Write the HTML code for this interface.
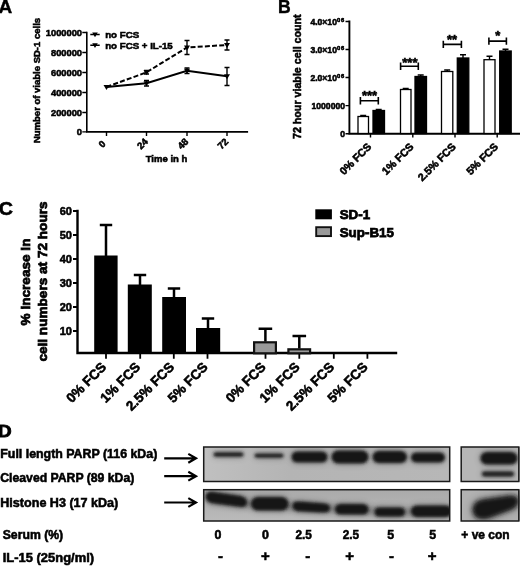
<!DOCTYPE html>
<html>
<head>
<meta charset="utf-8">
<title>Figure</title>
<style>
html,body{margin:0;padding:0;background:#fff;}
body{width:520px;height:566px;overflow:hidden;}
svg{display:block;}
text{font-family:"Liberation Sans",Arial,sans-serif;font-weight:bold;fill:#000;stroke:#000;stroke-width:0.55px;}
.ax{stroke:#000;stroke-width:2;fill:none;stroke-linecap:square;}
.tk{stroke:#000;stroke-width:1.4;fill:none;}
.ln{stroke:#000;stroke-width:2;fill:none;}
.eb{stroke:#000;stroke-width:1.4;fill:none;}
.t9{font-size:9.5px;}
.pl{font-size:17.6px;stroke-width:0.4px}
</style>
</head>
<body>
<svg width="520" height="566" viewBox="0 0 520 566">
<defs>
<filter id="b1" x="-20%" y="-50%" width="140%" height="200%"><feGaussianBlur stdDeviation="1.6"/></filter>
<linearGradient id="g2" x1="0" y1="0" x2="0" y2="1"><stop offset="0" stop-color="#aaaaaa"/><stop offset="1" stop-color="#bbbbbb"/></linearGradient>
<linearGradient id="g1" x1="0" y1="0" x2="1" y2="0"><stop offset="0" stop-color="#c0c0c0"/><stop offset="0.35" stop-color="#b4b4b4"/><stop offset="1" stop-color="#b7b7b7"/></linearGradient>
<filter id="b2" x="-20%" y="-50%" width="140%" height="200%"><feGaussianBlur stdDeviation="2"/></filter>
<filter id="b3" x="-20%" y="-100%" width="140%" height="300%"><feGaussianBlur stdDeviation="3"/></filter>
<filter id="b4" x="-30%" y="-100%" width="160%" height="300%"><feGaussianBlur stdDeviation="4.5"/></filter>
<path id="tri" d="M-3,-2 L3,-2 L0,3 Z"/>
</defs>
<rect x="0" y="0" width="520" height="566" fill="#fff"/>

<!-- ================= Panel A ================= -->
<g id="panelA">
<text class="pl" transform="translate(-1.4,12.6) scale(1.08,1)">A</text>
<path class="ax" style="stroke-width:1.6" d="M86.8,32.5 V131.900 H247.300"/>
<path class="tk" d="M82.300,32.5H86.8 M82.300,52.5H86.8 M82.300,72.5H86.8 M82.300,92.5H86.8 M82.300,112.5H86.8 M82.300,131.900H86.8"/>
<path class="tk" d="M106.5,132V136 M146.5,132V136 M187,132V136 M227,132V136"/>
<g style="font-size:9.3px" text-anchor="end">
<text x="82" y="35.7">1000000</text>
<text x="82" y="55.7">800000</text>
<text x="82" y="75.7">600000</text>
<text x="82" y="95.7">400000</text>
<text x="82" y="115.7">200000</text>
<text x="82" y="135">0</text>
</g>
<text class="t9" text-anchor="middle" transform="translate(40.3,80.5) rotate(-90)">Number of viable SD-1 cells</text>
<g class="t9" text-anchor="end">
<text transform="translate(106.2,144.5) rotate(-45)">0</text>
<text transform="translate(148.5,142.3) rotate(-45)">24</text>
<text transform="translate(189,142.3) rotate(-45)">48</text>
<text transform="translate(229,142.3) rotate(-45)">72</text>
</g>
<text class="t9" x="166.5" y="162" text-anchor="middle" style="font-size:9.5px">Time in h</text>
<!-- legend -->
<path class="eb" d="M90.300,34.5H99.700 M90.300,45.200H99.700"/>
<path d="M92.200,32.600H97.800L95,37.300Z M92.200,43.300H97.800L95,48Z"/>
<text x="105.2" y="38" style="font-size:9.7px">no FCS</text>
<text x="105.2" y="48.7" style="font-size:9.7px">no FCS + IL-15</text>
<!-- solid -->
<path class="ln" d="M106.5,87 L146.5,83.3 L187,70.8 L227,76.3"/>
<path class="ln" stroke-dasharray="5,2.2" d="M106.5,87 L146.5,72.3 L187,47.5 L227,45"/>
<path class="eb" d="M146.5,80.5V86 M144,80.5H149 M144,86H149 M187,68V73.5 M184.500,68H189.5 M184.500,73.5H189.5 M227,67.5V85.500 M224.500,67.5H229.5 M224.500,85.500H229.5"/>
<path class="eb" d="M146.5,70.5V74 M144,70.5H149 M144,74H149 M187,40.500V54.500 M184.500,40.500H189.5 M184.500,54.500H189.5 M227,40V50 M224.500,40H229.5 M224.500,50H229.5"/>
<use href="#tri" x="106.5" y="87"/><use href="#tri" x="146.5" y="83.3"/><use href="#tri" x="187" y="70.8"/><use href="#tri" x="227" y="76.3"/>
<use href="#tri" x="146.5" y="72.3"/><use href="#tri" x="187" y="47.5"/><use href="#tri" x="227" y="45"/>
</g>

<!-- ================= Panel B ================= -->
<g id="panelB">
<text class="pl" transform="translate(278.1,12.6) scale(1,1)">B</text>
<path class="ax" style="stroke-width:1.9" d="M349.4,21.5 V133.7 H520"/>
<path class="tk" d="M345.500,21.5H349.4 M345.500,49.5H349.4 M345.500,77.5H349.4 M345.500,105.6H349.4 M345.500,133.7H349.4"/>
<path class="tk" d="M370.500,133.7V137.500 M412.800,133.7V137.500 M455,133.7V137.500 M497.200,133.7V137.500"/>
<g style="font-size:8.6px" text-anchor="end">
<text x="345" y="24.8">4.0×10<tspan dy="-3" style="font-size:5.8px;letter-spacing:0.8px">06</tspan></text>
<text x="345" y="52.8">3.0×10<tspan dy="-3" style="font-size:5.8px;letter-spacing:0.8px">06</tspan></text>
<text x="345" y="80.8">2.0×10<tspan dy="-3" style="font-size:5.8px;letter-spacing:0.8px">06</tspan></text>
<text x="345" y="108.8">1000000</text>
<text x="345" y="136.8">0</text>
</g>
<text class="t9" text-anchor="middle" transform="translate(300.700,76.7) rotate(-90)" style="font-size:10.7px">72 hour viable cell count</text>
<!-- bars -->
<g stroke="#000" stroke-width="1.3">
<rect x="358" y="116.500" width="10.500" height="17" fill="#fff"/>
<rect x="373" y="110.5" width="11.500" height="23" fill="#000"/>
<rect x="400.500" y="89.500" width="10.500" height="44" fill="#fff"/>
<rect x="415" y="76.5" width="11.500" height="57" fill="#000"/>
<rect x="441.500" y="71.500" width="11.300" height="62" fill="#fff"/>
<rect x="457.300" y="58" width="11.500" height="75.500" fill="#000"/>
<rect x="484" y="59.700" width="11" height="73.800" fill="#fff"/>
<rect x="499.700" y="51" width="11.500" height="82.500" fill="#000"/>
</g>
<path class="eb" d="M363.200,116.500V115.500 M360.200,115.500H366.200 M378.700,110.500V109.500 M375.700,109.500H381.700 M405.700,89.500V88.500 M402.700,88.500H408.700 M420.700,76.500V75 M417.700,75H423.700 M447.200,71.500V70 M444.200,70H450.200 M463,58V54.700 M460,54.700H466 M489.500,60V56.200 M486.500,56.200H492.500 M505.500,52V49.300 M502.500,49.300H508.500"/>
<!-- sig brackets -->
<path class="eb" style="stroke-width:1.6" d="M360.400,100.7H378.300 M360.400,97V104.400 M378.300,97V104.400 M400.600,66.300H418.300 M400.600,62.600V70 M418.300,62.600V70 M443.300,44.400H461.400 M443.300,40.700V48.100 M461.400,40.700V48.100 M488.900,41.100H506.400 M488.900,37.400V44.800 M506.400,37.400V44.800"/>
<g style="font-size:13px;stroke-width:0.5px" text-anchor="middle">
<text x="369.500" y="100.400">***</text>
<text x="409.900" y="66.500">***</text>
<text x="452" y="44">**</text>
<text x="497.700" y="39.800">*</text>
</g>
<g style="font-size:10.7px" text-anchor="end">
<text transform="translate(372.100,147.4) rotate(-45)">0% FCS</text>
<text transform="translate(414.400,147.4) rotate(-45)">1% FCS</text>
<text transform="translate(456.600,147.4) rotate(-45)">2.5% FCS</text>
<text transform="translate(498.800,147.4) rotate(-45)">5% FCS</text>
</g>
</g>

<!-- ================= Panel C ================= -->
<g id="panelC">
<text class="pl" transform="translate(-1.3,214.8) scale(1.08,1)" style="font-size:18.2px;stroke-width:0.6px">C</text>
<path class="ax" style="stroke-width:2.4" d="M77.500,211 V353 H396"/>
<path class="tk" style="stroke-width:1.8" d="M73,211H77.500 M73,235H77.500 M73,259H77.500 M73,283H77.500 M73,307H77.500 M73,331H77.500"/>
<path class="tk" style="stroke-width:1.8" d="M106,353V358.700 M140.200,353V358.700 M173.800,353V358.700 M207.500,353V358.700 M265.500,353V358.700 M299.300,353V358.700 M333.800,353V358.700 M367.400,353V358.700"/>
<g style="font-size:11px" text-anchor="end">
<text x="72" y="214.800">60</text>
<text x="72" y="238.800">50</text>
<text x="72" y="262.800">40</text>
<text x="72" y="286.800">30</text>
<text x="72" y="310.800">20</text>
<text x="72" y="334.800">10</text>
</g>
<text text-anchor="middle" transform="translate(30,282) rotate(-90)" style="font-size:13.6px;stroke-width:0.75px">% increase in</text>
<text text-anchor="middle" transform="translate(47,281.500) rotate(-90)" style="font-size:13.6px;stroke-width:0.75px">cell numbers at 72 hours</text>
<g>
<rect x="94.200" y="255.500" width="23.400" height="98" fill="#000"/>
<rect x="127.800" y="284.500" width="24" height="69" fill="#000"/>
<rect x="162.200" y="297" width="23.800" height="56" fill="#000"/>
<rect x="196" y="328" width="24.200" height="25" fill="#000"/>
<rect x="254.100" y="342.300" width="21.800" height="11" fill="#999" stroke="#111" stroke-width="2.2"/>
<rect x="288.400" y="349.300" width="21.700" height="4" fill="#999" stroke="#111" stroke-width="2.2"/>
</g>
<path class="ax" style="stroke-width:2.5;stroke-linecap:butt" d="M106,256V225 M99.800,225H112.200 M140,285V275 M133.800,275H146.200 M174,297.500V288.500 M167.800,288.500H180.200 M208,328.500V318.500 M201.800,318.500H214.200 M265.400,341.500V328.700 M258.600,328.700H272.200 M299.300,348.500V336 M292.500,336H306.100"/>
<!-- legend -->
<rect x="315.300" y="209.300" width="16.600" height="10" fill="#000"/>
<rect x="316.200" y="227.200" width="14.800" height="8.900" fill="#999" stroke="#111" stroke-width="1.9"/>
<text x="339.700" y="218.900" style="font-size:13.4px;stroke-width:0.75px">SD-1</text>
<text x="339.700" y="236.700" style="font-size:13.4px;stroke-width:0.75px">Sup-B15</text>
<g style="font-size:13.5px;stroke-width:0.75px" text-anchor="end">
<text transform="translate(107.200,368) rotate(-45)">0% FCS</text>
<text transform="translate(141.200,368) rotate(-45)">1% FCS</text>
<text transform="translate(175,368) rotate(-45)">2.5% FCS</text>
<text transform="translate(208.700,368) rotate(-45)">5% FCS</text>
<text transform="translate(266.700,368) rotate(-45)">0% FCS</text>
<text transform="translate(300.500,368) rotate(-45)">1% FCS</text>
<text transform="translate(335,368) rotate(-45)">2.5% FCS</text>
<text transform="translate(368.600,368) rotate(-45)">5% FCS</text>
</g>
</g>

<!-- ================= Panel D ================= -->
<g id="panelD">
<text class="pl" transform="translate(-2,437.2) scale(1.12,1)" style="font-size:16.8px;stroke-width:0.9px">D</text>
<g style="font-size:12.4px;stroke-width:0.45px">
<text x="0.300" y="458" textLength="157" lengthAdjust="spacingAndGlyphs">Full length PARP (116 kDa)</text>
<text x="0.300" y="482.300" textLength="134" lengthAdjust="spacingAndGlyphs">Cleaved PARP (89 kDa)</text>
<text x="0.300" y="507.200" textLength="118" lengthAdjust="spacingAndGlyphs">Histone H3 (17 kDa)</text>
<text x="2.700" y="538.700" textLength="60.500" lengthAdjust="spacingAndGlyphs">Serum (%)</text>
<text x="2.700" y="561.800" textLength="91.400" lengthAdjust="spacingAndGlyphs">IL-15 (25ng/ml)</text>
</g>
<g class="ln" style="stroke-width:2.2;stroke-linejoin:miter">
<path d="M164.200,458.300H195 M188.300,453.900L196,458.300L188.300,462.700"/>
<path d="M164.200,476.200H195 M188.300,471.800L196,476.200L188.300,480.600"/>
<path d="M164.200,502.500H195 M188.300,498.100L196,502.500L188.300,506.900"/>
</g>
<!-- blots -->
<clipPath id="c1"><rect x="203.700" y="447" width="246" height="34.500"/></clipPath>
<clipPath id="c2"><rect x="203.700" y="489.700" width="246" height="31.300"/></clipPath>
<clipPath id="c3"><rect x="461.200" y="447" width="59" height="34.500"/></clipPath>
<clipPath id="c4"><rect x="461.200" y="489.700" width="59" height="31.300"/></clipPath>
<rect x="203.700" y="447" width="246" height="34.500" fill="url(#g1)"/>
<rect x="203.700" y="489.700" width="246" height="31.300" fill="url(#g2)"/>
<rect x="461.200" y="447" width="59" height="34.500" fill="#b6b6b6"/>
<rect x="461.200" y="489.700" width="59" height="31.300" fill="#b2b2b2"/>
<g clip-path="url(#c1)">
<use href="#bd1" filter="url(#b3)" opacity="0.4"/>
<g id="bd1" filter="url(#b1)" fill="#141414">
<rect x="213.500" y="452.300" width="30" height="4.400" rx="2.200" fill="#1e1e1e"/>
<rect x="254.500" y="453.400" width="29" height="4.400" rx="2.200" fill="#1e1e1e"/>
<rect x="291.500" y="451.500" width="36" height="11" rx="5.500"/>
<rect x="331.500" y="450.500" width="37" height="13" rx="6.500"/>
<rect x="372.500" y="451" width="34.500" height="12" rx="6"/>
<rect x="411" y="452.500" width="34" height="10" rx="5"/>
</g></g>
<g clip-path="url(#c2)">
<path d="M210,499 L250,504 L300,507 L350,509.500 L390,512.500 L445,511" fill="none" stroke="#2a2a2a" stroke-width="5" filter="url(#b3)" opacity="0.55"/>
<use href="#bd2" filter="url(#b3)" opacity="0.4"/>
<g id="bd2" filter="url(#b1)" fill="#141414">
<path d="M205.500,496.500 Q205.500,491 214,492 L241,496 Q247.500,498 247,503 Q246.500,507.500 240,506.800 L213,503.300 Q205.500,502 205.500,496.500Z"/>
<rect x="251" y="497" width="37.500" height="13.500" rx="6.700"/>
<path d="M292.500,505.500 Q292.500,501 299,501.500 L325,503.500 Q330.500,504.500 330,508.500 Q329.500,512.500 324,512.500 L298,511.200 Q292.500,510.500 292.500,505.500Z"/>
<rect x="335" y="504" width="33.500" height="10.500" rx="5.200"/>
<rect x="374.500" y="507.500" width="30.500" height="9" rx="4.500"/>
<rect x="411" y="505.500" width="41" height="11.500" rx="5.700"/>
</g></g>
<g clip-path="url(#c3)">
<use href="#bd3" filter="url(#b3)" opacity="0.4"/>
<g id="bd3" filter="url(#b1)" fill="#141414">
<rect x="480.500" y="452" width="37" height="12.500" rx="6.200"/>
<rect x="482" y="471.400" width="32" height="5" rx="1.800" fill="#1c1c1c"/>
</g></g>
<g clip-path="url(#c4)">
<use href="#bd4" filter="url(#b4)" opacity="0.45"/>
<g id="bd4" filter="url(#b2)" fill="#161616">
<path d="M472.500,510 Q472.500,501.500 482,499.500 L510,495.500 Q518.500,495 518.500,501 Q518.500,506.500 512,509.500 L488,518.500 Q473.500,521.500 472.500,510Z"/>
</g></g>
<g fill="none" stroke="#1a1a1a" stroke-width="1.500">
<rect x="203.700" y="447" width="246" height="34.500"/>
<rect x="203.700" y="489.700" width="246" height="31.300"/>
<rect x="461.200" y="447" width="57.600" height="34.500"/>
<rect x="461.200" y="489.700" width="57.600" height="31.300"/>
</g>
<g style="font-size:12.4px;stroke-width:0.45px" text-anchor="middle">
<text x="217.900" y="538.700">0</text>
<text x="265.500" y="538.700">0</text>
<text x="303.700" y="538.700" textLength="16.500" lengthAdjust="spacingAndGlyphs">2.5</text>
<text x="350.900" y="538.700" textLength="16.500" lengthAdjust="spacingAndGlyphs">2.5</text>
<text x="390.600" y="538.700">5</text>
<text x="432.800" y="538.700">5</text>
<text x="485.500" y="538.500" textLength="48.300" lengthAdjust="spacingAndGlyphs">+ ve con</text>
</g>
<g style="font-size:15px;stroke-width:0.5px" text-anchor="middle">
<text x="220.400" y="560.700">-</text>
<text x="265.500" y="560.700">+</text>
<text x="307.700" y="560.700">-</text>
<text x="349.600" y="560.700">+</text>
<text x="391.500" y="560.700">-</text>
<text x="432.100" y="560.700">+</text>
</g>
</g>
</svg>
</body>
</html>
